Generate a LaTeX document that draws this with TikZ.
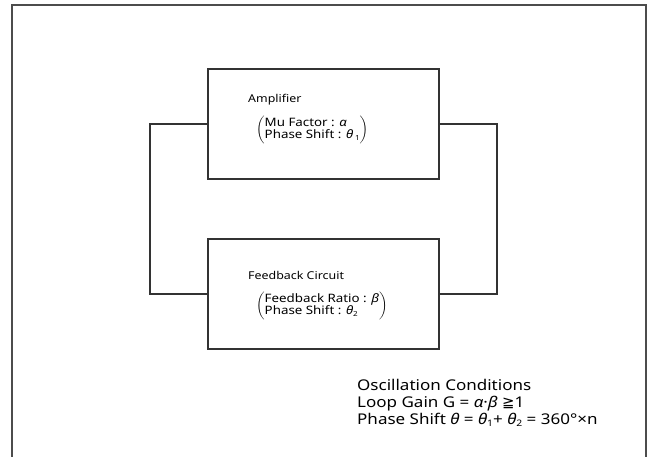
\documentclass[tikz,border=0pt]{standalone}
\usepackage{amsmath,amssymb}
\usepackage{fontspec}
\setmainfont{Noto Sans}[FakeStretch=1.15]
\newfontfamily\symfont{DejaVu Sans}
\usepackage{tikz}

\newcommand{\gk}[1]{\textit{#1}}
\newcommand{\lowsub}[1]{\raisebox{-1.5pt}{\scriptsize #1}}
\newcommand{\pargroup}[2]{$\left(\vcenter{\hbox{\renewcommand{\arraystretch}{0.8}\begin{tabular}{@{}l@{}}#1\\ #2\end{tabular}}}\right)$}

\tikzset{
  blk/.style = {draw=black!80, line width=1.2pt, minimum width=231pt, minimum height=110pt, inner sep=0pt},
  wire/.style = {draw=black!80, line width=1.2pt},
  lbl/.style = {anchor=west, inner sep=0pt, font=\fontsize{10.8}{12}\selectfont},
  parlbl/.style = {anchor=west, inner sep=0pt, font=\fontsize{11.6}{13}\selectfont},
}

\begin{document}
\begin{tikzpicture}[x=1pt, y=-1pt]
		\useasboundingbox (0,0) rectangle (649,457);
		\begin{scope}
		% frame, open at the bottom
		\draw[black!70, line width=1.5pt] (12,457) -- (12,5) -- (646,5) -- (646,457);
		% the two blocks
		\node[blk] (amp) at (323.5,124) {};
		\node[blk] (fb) at (323.5,294) {};
		\coordinate (lu) at (150,124);
		\coordinate (ld) at (150,294);
		\coordinate (ru) at (497,124);
		\coordinate (rd) at (497,294);
		\draw[wire] (amp.west) -- (lu) -- (ld) -- (fb.west);
		\draw[wire] (amp.east) -- (ru) -- (rd) -- (fb.east);
		% texts
		\node[lbl] (ampname) at (248,100) {Amplifier};
		\node[parlbl] (amppar) at (256,130) {\pargroup{Mu Factor : \gk{α}\ \ }{Phase Shift : \gk{θ}\,\lowsub{1}}};
		\node[lbl] (fbname) at (248,275) {Feedback Circuit};
		\node[parlbl] (fbpar) at (256,306) {\pargroup{Feedback Ratio : \gk{β}}{Phase Shift : \gk{θ}\lowsub{2}}};
		\node[anchor=west, inner sep=0pt, align=left, font=\fontsize{14.8}{17}\selectfont] (cond) at (357,403)
			{Oscillation Conditions\\ Loop Gain G = \gk{α}·\gk{β} {\symfont ≧}1\\ Phase Shift \gk{θ} = \gk{θ}\lowsub{\small 1}+ \gk{θ}\lowsub{\small 2} = 360°×n};
		\end{scope}
\end{tikzpicture}
\end{document}
